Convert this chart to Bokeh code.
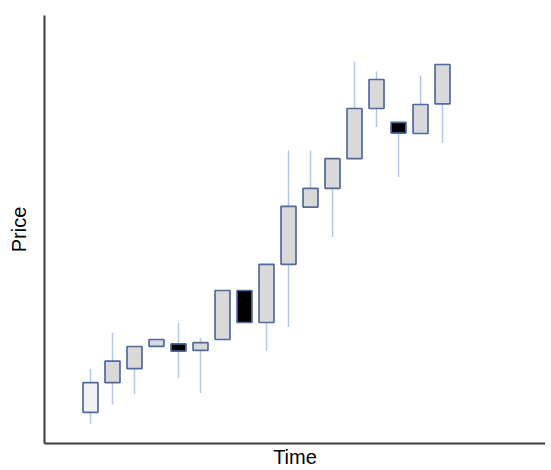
from bokeh.plotting import figure
from bokeh.models import FixedTicker, Range1d, ColumnDataSource
from bokeh.embed import file_html
from bokeh.resources import INLINE

# Candles (time index, low, body bottom, body top, high, kind)
t = list(range(1, 18))
low = [4.9, 9.75, 12.4, 24.3, 16.3, 12.6, 26.0, 30.25, 23.1, 29.1, 59.1, 51.6, 71.2, 79.1, 66.6, 77.5, 75.2]
body_bottom = [7.8, 15.2, 18.7, 24.3, 23.1, 23.3, 26.0, 30.25, 30.25, 44.8, 59.1, 63.8, 71.2, 83.75, 77.6, 77.5, 84.9]
body_top = [15.2, 20.6, 24.25, 26.0, 24.9, 25.2, 38.25, 38.25, 44.8, 59.3, 63.8, 71.2, 83.75, 91.0, 80.3, 84.75, 94.75]
high = [18.7, 27.7, 24.25, 26.0, 30.2, 26.4, 38.25, 38.25, 44.8, 73.25, 73.25, 71.2, 95.5, 93.0, 80.3, 92.0, 94.75]
kind = ["first", "up", "up", "up", "down", "up", "up", "down", "up", "up", "up", "up", "up", "up", "down", "up", "up"]

fill_map = {"first": "#f2f2f2", "up": "#d9d9d9", "down": "#000000"}
fills = [fill_map[k] for k in kind]

src = ColumnDataSource(dict(t=t, low=low, bb=body_bottom, bt=body_top, high=high, fill=fills))

p = figure(width=545, height=470, output_backend="svg", toolbar_location=None,
           x_range=Range1d(-1.09, 21.68), y_range=Range1d(0, 107),
           min_border_left=44, min_border_right=0, min_border_top=15, min_border_bottom=27)

p.outline_line_color = None
p.grid.visible = False
p.background_fill_color = "white"
p.border_fill_color = "white"

for ax in (p.xaxis[0], p.yaxis[0]):
    ax.ticker = FixedTicker(ticks=[])
    ax.major_tick_out = 0
    ax.major_tick_in = 0
    ax.minor_tick_out = 0
    ax.minor_tick_in = 0
    ax.major_label_text_font_size = "0px"
    ax.axis_line_color = "#3a3a3a"
    ax.axis_line_width = 2
    ax.axis_label_text_font = "Liberation Sans"
    ax.axis_label_text_font_style = "normal"
    ax.axis_label_text_font_size = "20px"
    ax.axis_label_text_color = "#000000"

p.xaxis.axis_label = "Time"
p.yaxis.axis_label = "Price"
p.xaxis.axis_label_standoff = 2
p.yaxis.axis_label_standoff = 15

p.segment(x0="t", y0="low", x1="t", y1="high", source=src,
          line_color="#b4c7e7", line_width=1.5)
p.vbar(x="t", bottom="bb", top="bt", width=0.68, source=src,
       fill_color="fill", line_color="#4f6aa0", line_width=1.7)

open("out.html", "w").write(file_html(p, INLINE))
